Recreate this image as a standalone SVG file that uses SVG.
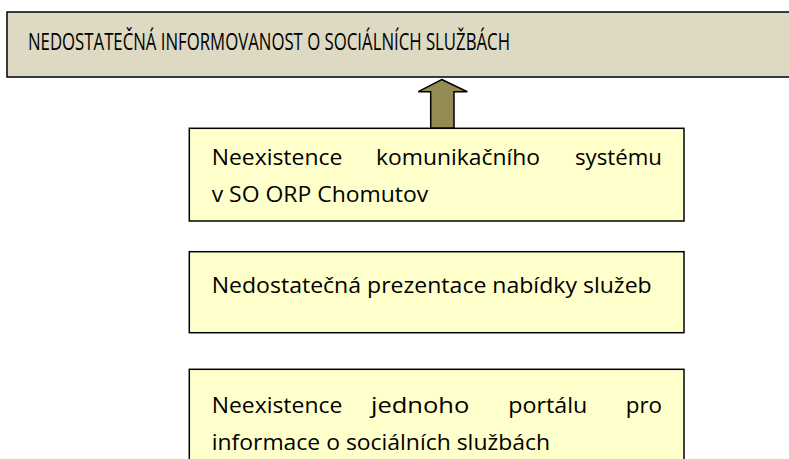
<svg xmlns="http://www.w3.org/2000/svg" width="789" height="459" viewBox="0 0 789 459">
<style>
text{font-family:"Open Sans","Liberation Sans",sans-serif;fill:#000;}
.t{font-size:22px;}
.h{font-size:23.5px;}
.box{fill:#ffffcc;stroke:#000;stroke-width:1.5;}
.top{fill:#ddd9c3;stroke:#000;stroke-width:1.5;}
.arrow{fill:#948a54;stroke:#000;stroke-width:1.5;stroke-linejoin:miter;}
</style>
<rect width="789" height="459" fill="#fff"/>
<g id="problem">
<rect class="top" x="7" y="12" width="800" height="65"/>
<text class="h" x="28" y="50" textLength="482" lengthAdjust="spacingAndGlyphs">NEDOSTATEČNÁ INFORMOVANOST O SOCIÁLNÍCH SLUŽBÁCH</text>
</g>
<g id="connectors">
<polygon class="arrow" points="441.7,79.5 467.3,91.7 454,91.7 454,128.3 430.7,128.3 430.7,91.7 418.3,91.7"/>
</g>
<g id="cause1">
<rect class="box" x="189.3" y="128.3" width="494.7" height="92.7"/>
<text class="t" x="211.7" y="165" textLength="130.6" lengthAdjust="spacingAndGlyphs">Neexistence</text>
<text class="t" x="376" y="165" textLength="164" lengthAdjust="spacingAndGlyphs">komunikačního</text>
<text class="t" x="575" y="165" textLength="87" lengthAdjust="spacingAndGlyphs">systému</text>
<text class="t" x="211.7" y="201.7" textLength="216.6" lengthAdjust="spacingAndGlyphs">v SO ORP Chomutov</text>
</g>
<g id="cause2">
<rect class="box" x="189.3" y="251.7" width="494.7" height="81"/>
<text class="t" x="211.7" y="293.3" textLength="440" lengthAdjust="spacingAndGlyphs">Nedostatečná prezentace nabídky služeb</text>
</g>
<g id="cause3">
<rect class="box" x="189.3" y="369.3" width="494.7" height="100"/>
<text class="t" x="211.7" y="413.3" textLength="130.6" lengthAdjust="spacingAndGlyphs">Neexistence</text>
<text class="t" x="371" y="413.3" textLength="98.3" lengthAdjust="spacingAndGlyphs">jednoho</text>
<text class="t" x="508.3" y="413.3" textLength="79" lengthAdjust="spacingAndGlyphs">portálu</text>
<text class="t" x="625.7" y="413.3" textLength="36.3" lengthAdjust="spacingAndGlyphs">pro</text>
<text class="t" x="211.7" y="450" textLength="338.3" lengthAdjust="spacingAndGlyphs">informace o sociálních službách</text>
</g>
</svg>
